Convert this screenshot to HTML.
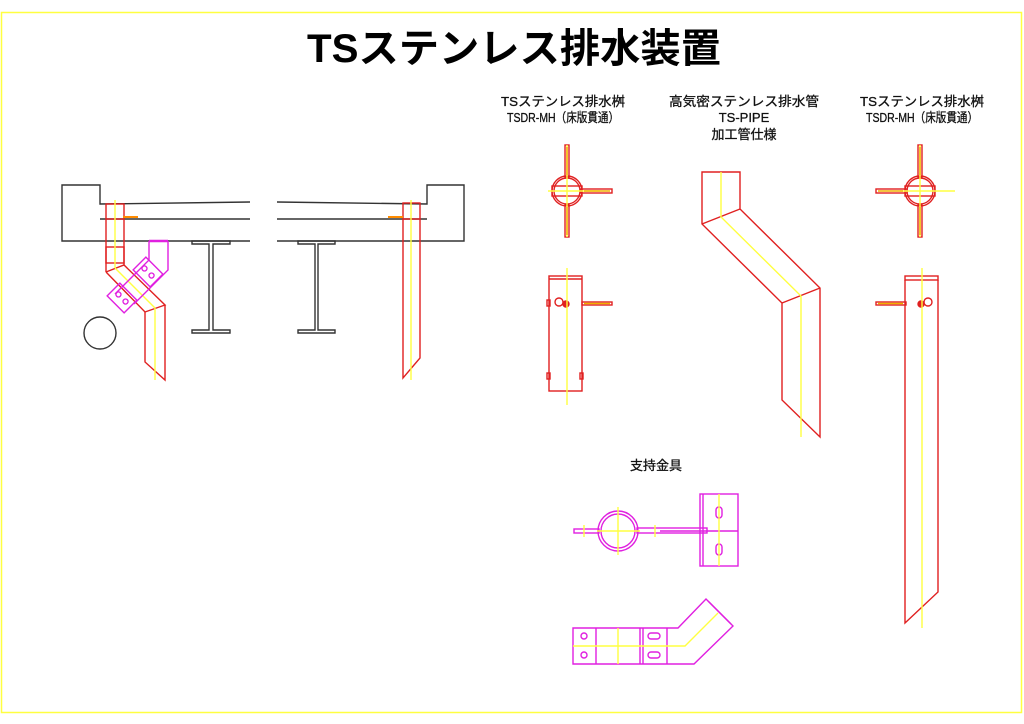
<!DOCTYPE html>
<html><head><meta charset="utf-8"><style>
html,body{margin:0;padding:0;background:#fff;}
svg{display:block;}
text{font-family:"Liberation Sans","Noto Sans CJK JP",sans-serif;}
</style></head><body>
<svg width="1024" height="724" viewBox="0 0 1024 724" xmlns="http://www.w3.org/2000/svg" fill="none" stroke-width="1.4">
<rect x="1.5" y="12.5" width="1020" height="700" stroke="#ffff40" stroke-width="1.5"/>
<text x="514" y="62" font-size="40" font-weight="bold" fill="#000" text-anchor="middle" textLength="414" lengthAdjust="spacingAndGlyphs">TSステンレス排水装置</text>

<g fill="#111" font-size="13" text-anchor="middle" stroke="#111" stroke-width="0.3">
<text x="563" y="106" textLength="124" lengthAdjust="spacingAndGlyphs">TSステンレス排水桝</text>
<text x="563" y="122" textLength="112" lengthAdjust="spacingAndGlyphs">TSDR-MH（床版貫通）</text>
<text x="744" y="106" textLength="150" lengthAdjust="spacingAndGlyphs">高気密ステンレス排水管</text>
<text x="744" y="122">TS-PIPE</text>
<text x="744" y="139">加工管仕様</text>
<text x="922" y="106" textLength="124" lengthAdjust="spacingAndGlyphs">TSステンレス排水桝</text>
<text x="922" y="122" textLength="112" lengthAdjust="spacingAndGlyphs">TSDR-MH（床版貫通）</text>
<text x="656" y="470">支持金具</text>
</g>

<!-- left structure -->
<g stroke="#333">
<polyline points="250,202 100,204 100,185 62,185 62,241 250,241"/>
<line x1="100" y1="219" x2="250" y2="219"/>
<polyline points="277,202 427,204 427,185 464,185 464,241 277,241"/>
<line x1="277" y1="219" x2="427" y2="219"/>
<path d="M192,241h38v3h-17v86h17v3h-38v-3h17v-86h-17z"/>
<path d="M298,241h37v3h-17v86h17v3h-37v-3h17v-86h-17z"/>
<circle cx="100" cy="333" r="16"/>
</g>
<!-- left pipe -->
<g stroke="#e02020">
<rect x="106" y="204" width="18" height="15"/>
<line x1="106" y1="219" x2="106" y2="272"/><line x1="124" y1="219" x2="124" y2="265"/>
<rect x="106" y="247" width="18" height="16"/>
<polyline points="106,272 124,265 165,305 145,312 106,272"/>
<polyline points="145,312 145,362 165,380 165,305"/>
<rect x="403" y="203" width="17" height="16"/>
<polyline points="403,219 403,378 420,358 420,219"/>
</g>
<g stroke="#ff8c00" stroke-width="2"><line x1="123" y1="217" x2="138" y2="217"/><line x1="388" y1="217" x2="403" y2="217"/></g>
<g stroke="#ffff40"><line x1="115" y1="200" x2="115" y2="268"/><line x1="115" y1="268" x2="155" y2="308"/><line x1="155" y1="308" x2="155" y2="380"/><line x1="411" y1="200" x2="411" y2="380"/></g>
<g stroke="#e020e0">
<line x1="149" y1="241" x2="168" y2="241" stroke-width="2.5"/>
<polyline points="149,241 149,260 115,294"/>
<polyline points="168,241 168,270 134,304"/>
<g transform="rotate(45 148 272)"><rect x="136" y="263" width="24" height="18"/><circle cx="143" cy="272" r="2.5"/><circle cx="153" cy="272" r="2.5"/></g>
<g transform="rotate(45 122 298)"><rect x="110" y="289" width="24" height="18"/><circle cx="117" cy="298" r="2.5"/><circle cx="127" cy="298" r="2.5"/></g>
</g>

<!-- middle column: top view -->
<g stroke="#e02020">
<circle cx="567" cy="191" r="15"/><circle cx="567" cy="191" r="13"/>
<rect x="552" y="186" width="30" height="10"/>
<rect x="565" y="145" width="4" height="32"/><rect x="565" y="205" width="4" height="32"/>
<rect x="581" y="189" width="31" height="4"/>
<rect x="549" y="276" width="33" height="115"/><line x1="549" y1="279" x2="582" y2="279"/>
<circle cx="559" cy="302" r="4"/><circle cx="566" cy="304" r="3" fill="#e02020"/>
<rect x="582" y="302" width="30" height="3"/>
<rect x="547" y="300" width="3" height="6"/><rect x="547" y="373" width="3" height="6"/><rect x="580" y="373" width="3" height="6"/>
<polygon points="702,172 740,172 740,209 820,288 820,437 782,400 782,303 702,224"/>
<line x1="702" y1="224" x2="740" y2="209"/><line x1="782" y1="303" x2="820" y2="288"/>
</g>
<g stroke="#ffff40"><line x1="567" y1="145" x2="567" y2="237"/><line x1="548" y1="191" x2="600" y2="191"/><line x1="567" y1="268" x2="567" y2="405"/>
<polyline points="721,172 721,217 801,296 801,437"/></g>
<g stroke="#f0b000" stroke-width="1.5"><line x1="567" y1="147" x2="567" y2="175"/><line x1="567" y1="207" x2="567" y2="235"/><line x1="584" y1="191" x2="610" y2="191"/><line x1="584" y1="303.5" x2="610" y2="303.5"/></g>

<!-- right column -->
<g stroke="#e02020">
<circle cx="920" cy="191" r="15"/><circle cx="920" cy="191" r="13"/>
<rect x="905" y="186" width="30" height="10"/>
<rect x="918" y="145" width="4" height="32"/><rect x="918" y="205" width="4" height="32"/>
<rect x="876" y="189" width="31" height="4"/>
<rect x="905" y="276" width="33" height="4"/>
<polyline points="905,280 905,623 938,592 938,280"/>
<circle cx="928" cy="302" r="4"/><circle cx="921" cy="304" r="3" fill="#e02020"/>
<rect x="876" y="302" width="30" height="3"/>
</g>
<g stroke="#ffff40"><line x1="920" y1="145" x2="920" y2="237"/><line x1="900" y1="191" x2="955" y2="191"/><line x1="922" y1="268" x2="922" y2="628"/></g>
<g stroke="#f0b000" stroke-width="1.5"><line x1="920" y1="147" x2="920" y2="175"/><line x1="920" y1="207" x2="920" y2="235"/><line x1="878" y1="191" x2="903" y2="191"/><line x1="878" y1="303.5" x2="903" y2="303.5"/></g>

<!-- support brackets -->
<g stroke="#e020e0">
<circle cx="618" cy="531" r="20"/><circle cx="618" cy="531" r="17"/>
<rect x="574" y="529" width="25" height="4"/>
<rect x="637" y="528" width="70" height="5"/>
<line x1="660" y1="531" x2="738" y2="531"/>
<rect x="700" y="494" width="38" height="72"/><line x1="703" y1="494" x2="703" y2="566"/>
<rect x="716" y="507" width="6" height="11" rx="3"/><rect x="716" y="544" width="6" height="11" rx="3"/>
<polygon points="573,628 678,628 706,599 733,626 694,664 573,664"/>
<line x1="596" y1="628" x2="596" y2="664"/><line x1="640" y1="628" x2="640" y2="664"/><line x1="643" y1="628" x2="643" y2="664"/><line x1="667" y1="628" x2="667" y2="664"/>
<line x1="708" y1="601" x2="731" y2="624"/>
<circle cx="584" cy="636" r="3"/><circle cx="584" cy="655" r="3"/>
<rect x="648" y="633" width="12" height="6" rx="3"/><rect x="648" y="652" width="12" height="6" rx="3"/>
</g>
<g stroke="#ffff40"><line x1="618" y1="507" x2="618" y2="555"/><line x1="597" y1="531" x2="640" y2="531"/><line x1="719" y1="494" x2="719" y2="566"/>
<line x1="584" y1="525" x2="584" y2="537"/><line x1="655" y1="525" x2="655" y2="537"/>
<polyline points="573,646 685,646 718,613"/><line x1="618" y1="628" x2="618" y2="664"/></g>
</svg>
</body></html>
